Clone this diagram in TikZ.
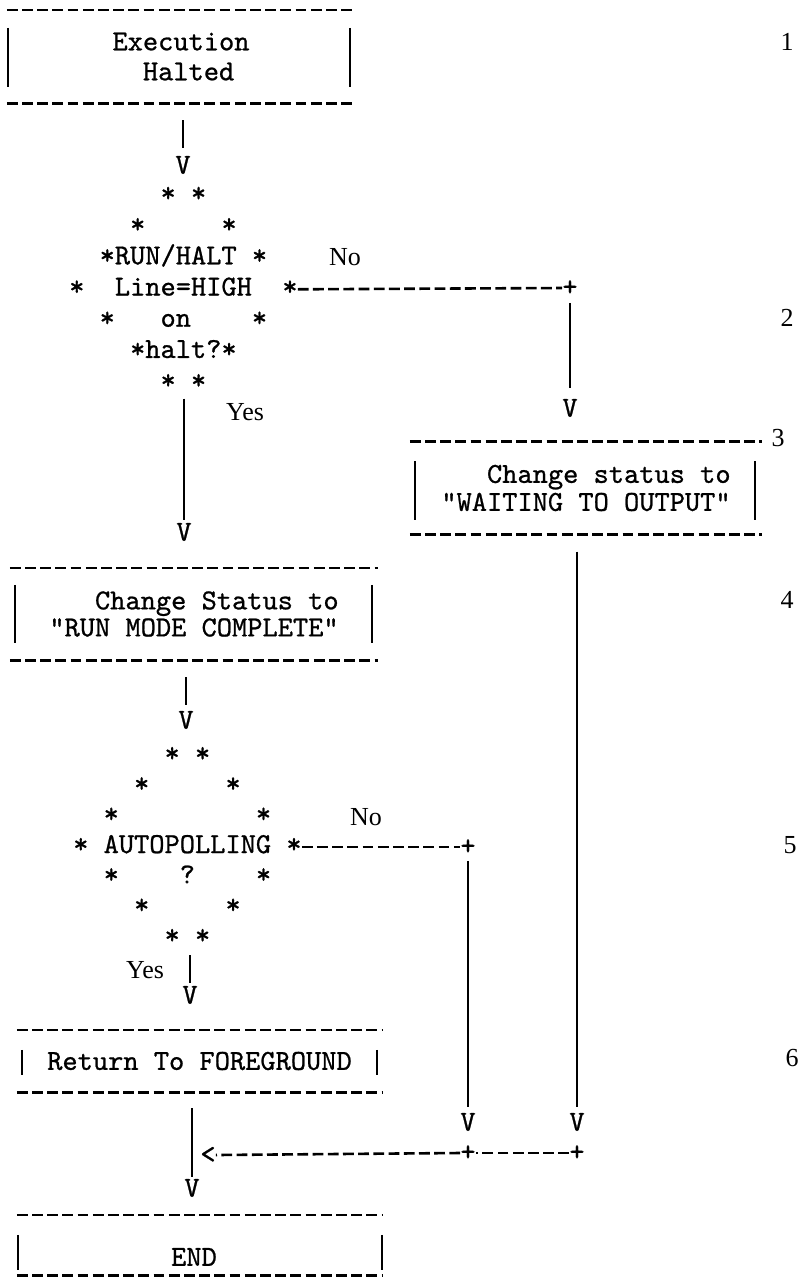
\documentclass[tikz,border=0pt]{standalone}
\usepackage{fontspec}
\newfontfamily\labf{Liberation Serif}
\newfontfamily\twf{lmmono10-regular.otf}[FakeBold=0.8]
\usetikzlibrary{calc}
\newcommand\tw[1]{\twf\fontsize{29}{#1}\selectfont\frenchspacing}
\newcommand\frameit[5]{%
  \draw[hy] (#1.north west) -- (#1.north east);
  \draw[hy] (#1.south west) -- (#1.south east);
  \draw[bar] ($(#1.north west)+(#2,#4)$) -- ($(#1.south west)+(#2,-#5)$);
  \draw[bar] ($(#1.north east)+(-#3,#4)$) -- ($(#1.south east)+(-#3,-#5)$);}
\begin{document}
\begin{tikzpicture}[x=1pt,y=-1pt,
  hy/.style={line width=2.6pt,dash pattern=on 10.8pt off 4.4pt},
  vl/.style={line width=1.9pt},
  bar/.style={line width=2pt},
  tbox/.style={inner sep=0pt,font=\tw{28}},
  dia/.style={inner sep=0pt,align=left},
  gl/.style={inner sep=0pt,font=\tw{30}},
  lab/.style={inner sep=0pt,font=\labf\fontsize{26}{28}\selectfont},
  num/.style={inner sep=0pt,font=\labf\fontsize{26}{28}\selectfont}]
\fill[white] (0,0) rectangle (801,1277);
\useasboundingbox (0,0) rectangle (801,1277);

% boxes
\node[tbox,font=\tw{30},align=left,minimum width=348pt,minimum height=93pt] (b1) at (181,56.5) {Execution\\\hphantom{xx}Halted};
\node[tbox,font=\tw{27},align=left,minimum width=368pt,minimum height=92pt] (b2) at (194,614) {\hphantom{xxx}Change Status to\\"RUN MODE COMPLETE"};
\node[tbox,font=\tw{28},align=left,minimum width=352pt,minimum height=93pt] (b3) at (586,488) {\hphantom{xxx}Change status to\\"WAITING TO OUTPUT"};
\node[tbox,minimum width=365pt,minimum height=62pt] (b4) at (199.5,1061) {Return To FOREGROUND};
\node[tbox,minimum width=365pt,minimum height=60pt] (b5) at (199.5,1245) {\raisebox{-20.8pt}[0pt][0pt]{END}\kern11pt};
\frameit{b1}{1}{5}{18}{16}
\frameit{b2}{5}{6}{17}{17}
\frameit{b3}{5}{7}{20}{15}
\frameit{b4}{5}{5}{20}{17}
\frameit{b5}{1}{0}{20}{5}

% decisions
\node[dia,font=\tw{31.2}] (d1) at (183.4,289.3) {\strut\hphantom{xxxxxx}* *\\\hphantom{xxxx}*\hphantom{xxxxx}*\\\hphantom{xx}*RUN/HALT *\\{}*\hphantom{xx}Line=HIGH\hphantom{xx}*\\\hphantom{xx}*\hphantom{xxx}on\hphantom{xxxx}*\\\hphantom{xxxx}*halt?*\\\hphantom{xxxxxx}* *\strut};
\node[dia,font=\tw{30.33}] (d2) at (187.4,847) {\strut\hphantom{xxxxxx}* *\\\hphantom{xxxx}*\hphantom{xxxxx}*\\\hphantom{xx}*\hphantom{xxxxxxxxx}*\\{}* AUTOPOLLING *\\\hphantom{xx}*\hphantom{xxxx}?\hphantom{xxxx}*\\\hphantom{xxxx}*\hphantom{xxxxx}*\\\hphantom{xxxxxx}* *\strut};

% arrow tips and junctions
\node[gl] (v1) at (183,165) {V};
\node[gl] (p1) at (570,288) {+};
\node[gl] (v2) at (570,408) {V};
\node[gl] (v3) at (184,532) {V};
\node[gl] (v4) at (186,720) {V};
\node[gl] (p2) at (468,847) {+};
\node[gl] (v5) at (468,1122) {V};
\node[gl] (v6) at (190,995) {V};
\node[gl] (v7) at (192,1188) {V};
\node[gl] (v8) at (577,1122) {V};
\node[gl] (p3) at (468,1153) {+};
\node[gl] (p4) at (577,1153) {+};
\node[gl] (lt) at (208,1155) {<};

% connectors
\draw[vl,shorten <=17pt,shorten >=8pt] (v1 |- b1.south) -- (v1.north);
\draw[hy] (d1.east) -- (p1.west);
\draw[vl,shorten <=7pt,shorten >=11pt] (p1.south) -- (v2.north);
\draw[vl,shorten >=3pt] (v3 |- d1.south) -- (v3.north);
\draw[vl,shorten <=17pt,shorten >=6pt] (v4 |- b2.south) -- (v4.north);
\draw[hy] (d2.east) -- (p2.west);
\draw[vl,shorten <=6pt,shorten >=6pt] (p2.south) -- (v5.north);
\draw[vl,shorten <=2pt,shorten >=3pt] (v6 |- d2.south) -- (v6.north);
\draw[vl,shorten <=17pt,shorten >=6pt] (v8 |- b3.south) -- (v8.north);
\draw[vl,shorten <=16pt,shorten >=2pt] (v7 |- b4.south) -- (v7.north);
\draw[hy] (p4.west) -- (p3.east);
\draw[hy] (p3.west) -- (lt.east);

% labels
\node[lab] (no1) at (345,257) {No};
\node[lab] (yes1) at (245,412) {Yes};
\node[lab] (no2) at (366,817) {No};
\node[lab] (yes2) at (145,970) {Yes};
\node[num] (n1) at (787,42) {1};
\node[num] (n2) at (787,318) {2};
\node[num] (n3) at (778,438) {3};
\node[num] (n4) at (787,600) {4};
\node[num] (n5) at (790,845) {5};
\node[num] (n6) at (792,1058) {6};
\end{tikzpicture}
\end{document}
